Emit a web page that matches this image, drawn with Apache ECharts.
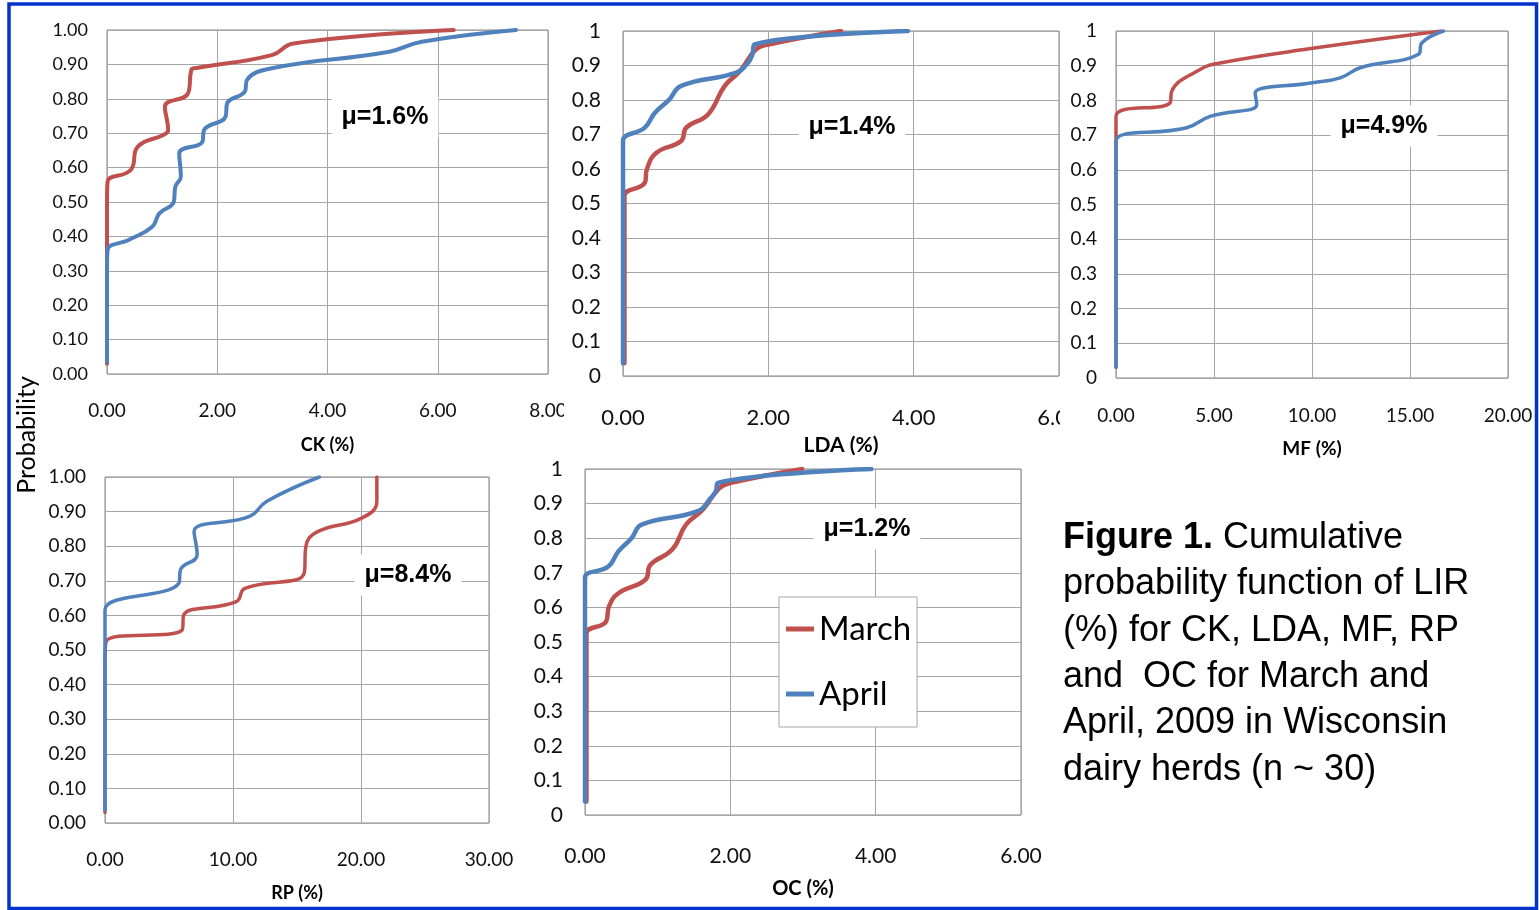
<!DOCTYPE html>
<html><head><meta charset="utf-8">
<script src="https://cdn.jsdelivr.net/npm/echarts@6/dist/echarts.min.js"></script>
<style>html,body{margin:0;padding:0;background:#fff}#c{width:1539px;height:910px}</style>
</head><body><div id="c"></div>
<script>
// ---------- DATA ----------
const seriesNames = ['March', 'April'];
// [LIR %, cumulative probability]
const ckMarch = [[0,0.03],[0,0.50],[0.01,0.559],[0.43,0.593],[0.56,0.661],[1.02,0.695],[1.11,0.709],[1.05,0.777],[1.47,0.816],[1.53,0.884],[1.60,0.889],[2.99,0.927],[3.38,0.961],[6.29,1.0]];
const ckApril = [[0,0.035],[0,0.30],[0.01,0.36],[0.40,0.39],[0.82,0.428],[0.95,0.467],[1.21,0.50],[1.24,0.545],[1.34,0.574],[1.31,0.641],[1.73,0.675],[1.76,0.709],[2.15,0.748],[2.18,0.787],[2.50,0.821],[2.54,0.855],[2.99,0.889],[5.12,0.937],[5.71,0.966],[7.42,1.0]];
const ldaMarch = [[0.02,0.037],[0.02,0.45],[0.02,0.522],[0.30,0.56],[0.33,0.60],[0.46,0.647],[0.80,0.681],[0.87,0.72],[1.17,0.758],[1.40,0.841],[1.61,0.884],[1.83,0.947],[2.0,0.961],[3.0,1.0]];
const ldaApril = [[0,0.037],[0,0.60],[0,0.681],[0.30,0.72],[0.44,0.763],[0.64,0.802],[0.80,0.841],[1.56,0.879],[1.72,0.908],[1.78,0.932],[1.81,0.961],[3.92,1.0]];
const mfMarch = [[0,0.03],[0,0.65],[0,0.754],[2.76,0.793],[2.84,0.826],[4.29,0.889],[5.31,0.908],[10.03,0.95],[16.6,1.0]];
const mfApril = [[0,0.032],[0,0.60],[0,0.682],[3.61,0.721],[4.80,0.754],[7.18,0.788],[7.10,0.821],[10.03,0.851],[11.44,0.865],[12.46,0.894],[15.44,0.933],[15.61,0.966],[16.71,1.0]];
const rpMarch = [[0,0.03],[0,0.45],[0.08,0.524],[6.03,0.558],[6.16,0.602],[10.26,0.64],[10.93,0.678],[15.56,0.722],[15.69,0.799],[16.61,0.842],[20.05,0.881],[21.24,0.93],[21.24,1.0]];
const rpApril = [[0,0.037],[0,0.55],[0,0.616],[5.77,0.693],[5.9,0.732],[7.2,0.775],[6.96,0.842],[11.3,0.886],[12.65,0.93],[16.75,1.0]];
const ocMarch = [[0.02,0.039],[0.02,0.45],[0.02,0.525],[0.29,0.559],[0.33,0.603],[0.46,0.641],[0.83,0.68],[0.90,0.723],[1.20,0.767],[1.39,0.839],[1.62,0.882],[1.85,0.945],[2.01,0.96],[2.99,1.0]];
const ocApril = [[0,0.039],[0,0.60],[0,0.685],[0.32,0.718],[0.46,0.762],[0.64,0.80],[0.78,0.839],[1.55,0.878],[1.73,0.916],[1.80,0.935],[1.83,0.96],[3.94,1.0]];

// tick labels
const ckTicks = [0, 2, 4, 6, 8];
const ldaTicks = [0, 2, 4, 6];
const mfTicks = [0, 5, 10, 15, 20];
const rpTicks = [0, 10, 20, 30];
const ocTicks = [0, 2, 4, 6];
const probTicks = [0, 0.1, 0.2, 0.3, 0.4, 0.5, 0.6, 0.7, 0.8, 0.9, 1];

const axisTitles = ['CK (%)', 'LDA (%)', 'MF (%)', 'RP (%)', 'OC (%)'];
const meanLabels = ['μ=1.6%', 'μ=1.4%', 'μ=4.9%', 'μ=8.4%', 'μ=1.2%'];
const yAxisTitle = 'Probability';
const captionBold = 'Figure 1.';
const captionLines = [' Cumulative', 'probability function of LIR', '(%) for CK, LDA, MF, RP', 'and  OC for March and', 'April, 2009 in Wisconsin', 'dairy herds (n ~ 30)'];

// ---------- LAYOUT / STYLE ----------
const RED = '#C0504D', BLUE = '#4F81BD';
const panels = [
  {ticks: ckTicks, march: ckMarch, april: ckApril, box: [107, 30, 441, 344], yDec: 2, yFont: 18, xFont: 19, nFont: 18, xMargin: 27, nameGap: 62, yMargin: 19, lw: 4, mu: [385, 117]},
  {ticks: ldaTicks, march: ldaMarch, april: ldaApril, box: [623, 31, 436, 345], yDec: 1, yFont: 21, xFont: 22, nFont: 21, xMargin: 31, nameGap: 59, yMargin: 22, lw: 4.5, mu: [852, 127]},
  {ticks: mfTicks, march: mfMarch, april: mfApril, box: [1116, 31, 392, 347], yDec: 1, yFont: 19, xFont: 19, nFont: 19, xMargin: 28, nameGap: 61, yMargin: 19, lw: 3.5, mu: [1384, 126]},
  {ticks: rpTicks, march: rpMarch, april: rpApril, box: [105, 477, 384, 346], yDec: 2, yFont: 19, xFont: 19, nFont: 18, xMargin: 27, nameGap: 61, yMargin: 19, lw: 3.5, mu: [408, 575]},
  {ticks: ocTicks, march: ocMarch, april: ocApril, box: [585, 469, 436, 346], yDec: 1, yFont: 21, xFont: 21, nFont: 20, xMargin: 31, nameGap: 64, yMargin: 22, lw: 4.5, mu: [867, 529]}
];

const grids = [], xAxes = [], yAxes = [], series = [], graphics = [];
panels.forEach((p, i) => {
  grids.push({left: p.box[0], top: p.box[1], width: p.box[2], height: p.box[3], show: true,
    backgroundColor: '#fff', borderColor: '#868686', borderWidth: 1, containLabel: false});
  xAxes.push({type: 'value', gridIndex: i, min: p.ticks[0], max: p.ticks[p.ticks.length - 1],
    interval: p.ticks[1] - p.ticks[0],
    name: axisTitles[i], nameLocation: 'middle', nameGap: p.nameGap,
    nameTextStyle: {fontFamily: 'Lato', fontWeight: 'bold', fontSize: p.nFont, color: '#000'},
    axisLine: {show: false}, axisTick: {show: false},
    axisLabel: {formatter: v => v.toFixed(2), fontFamily: 'Lato', fontSize: p.xFont, color: '#111', margin: p.xMargin},
    splitLine: {show: true, lineStyle: {color: '#a6a6a6', width: 1}}});
  yAxes.push({type: 'value', gridIndex: i, min: probTicks[0], max: probTicks[probTicks.length - 1],
    interval: probTicks[1] - probTicks[0],
    axisLine: {show: false}, axisTick: {show: false},
    axisLabel: {formatter: v => p.yDec === 2 ? v.toFixed(2) : String(+v.toFixed(1)),
      fontFamily: 'Lato', fontSize: p.yFont, color: '#111', margin: p.yMargin},
    splitLine: {show: true, lineStyle: {color: '#a6a6a6', width: 1}}});
  series.push({type: 'line', name: seriesNames[0], xAxisIndex: i, yAxisIndex: i, data: p.march,
    smooth: 0.45, symbol: 'none', showSymbol: false, z: 2,
    lineStyle: {color: RED, width: p.lw, cap: 'round', join: 'round'}, itemStyle: {color: RED}});
  series.push({type: 'line', name: seriesNames[1], xAxisIndex: i, yAxisIndex: i, data: p.april,
    smooth: 0.45, symbol: 'none', showSymbol: false, z: 3,
    lineStyle: {color: BLUE, width: p.lw, cap: 'round', join: 'round'}, itemStyle: {color: BLUE}});
  graphics.push({type: 'text', x: p.mu[0], y: p.mu[1], z: 50,
    style: {text: meanLabels[i], fontFamily: 'Liberation Sans', fontSize: 25, fontWeight: 'bold',
      fill: '#000', align: 'center', verticalAlign: 'middle', backgroundColor: '#fff', padding: [8, 10]}});
});

// clipped edge labels (as in the reference)
graphics.push({type: 'rect', z: 100, shape: {x: 564, y: 398, width: 26, height: 28}, style: {fill: '#fff'}});
graphics.push({type: 'rect', z: 100, shape: {x: 1060, y: 402, width: 30, height: 30}, style: {fill: '#fff'}});
// Probability title
graphics.push({type: 'text', x: 27, y: 435, rotation: Math.PI / 2, z: 50,
  style: {text: yAxisTitle, fontFamily: 'Lato', fontSize: 25, fill: '#000', align: 'center', verticalAlign: 'middle'}});
// caption
graphics.push({type: 'text', x: 1063, y: 515, z: 50,
  style: {text: '{b|' + captionBold + '}' + captionLines.join('\n'),
    fontFamily: 'Liberation Sans', fontSize: 36, lineHeight: 46.3, fill: '#000', align: 'left', verticalAlign: 'top',
    rich: {b: {fontFamily: 'Liberation Sans', fontSize: 36, fontWeight: 'bold', lineHeight: 46.3, fill: '#000'}}}});
// blue frame
graphics.push({type: 'rect', z: 100, shape: {x: 9, y: 4, width: 1527.5, height: 904.5},
  style: {fill: 'none', stroke: '#0433cc', lineWidth: 3.5}});

const chart = echarts.init(document.getElementById('c'), null, {renderer: 'canvas'});
chart.setOption({
  animation: false,
  backgroundColor: '#fff',
  grid: grids, xAxis: xAxes, yAxis: yAxes, series: series,
  legend: {data: seriesNames, orient: 'vertical', left: 779, top: 597,
    icon: 'rect', itemWidth: 28, itemHeight: 5, itemGap: 25,
    padding: [12, 6, 13, 7], backgroundColor: '#fff', borderColor: '#a6a6a6', borderWidth: 1,
    selectedMode: false,
    textStyle: {fontFamily: 'Lato', fontSize: 33, lineHeight: 40, color: '#000'}},
  graphic: graphics
});
</script></body></html>
